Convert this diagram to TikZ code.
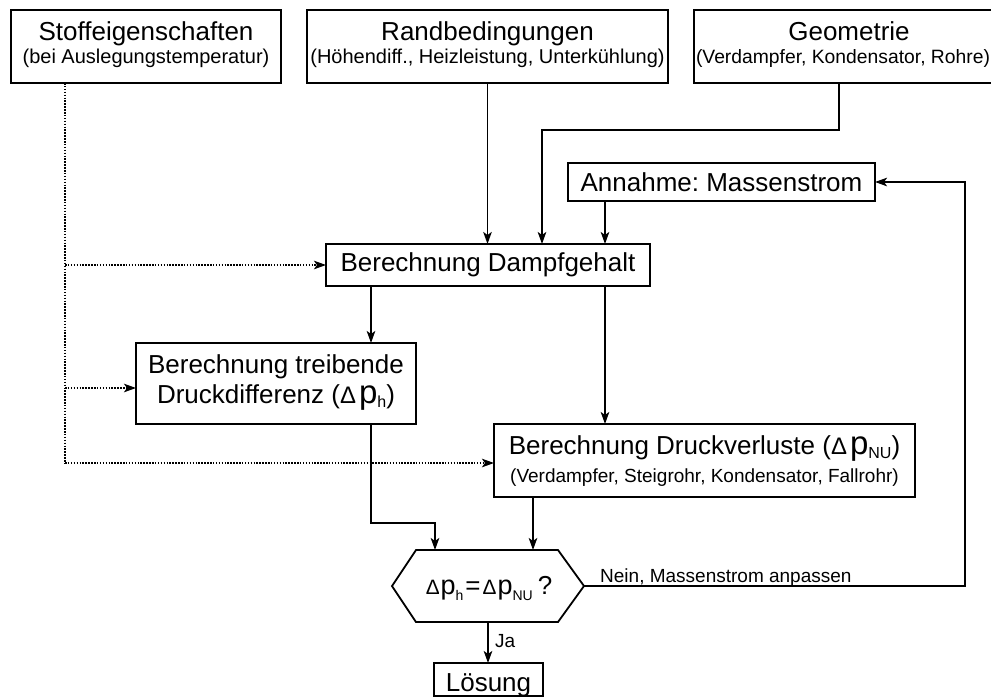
\documentclass[tikz,border=0pt]{standalone}
\usepackage{fontspec}
\setmainfont{Liberation Sans}
\usetikzlibrary{arrows.meta}
\frenchspacing
\newcommand{\fs}[1]{\fontsize{#1}{#1}\selectfont}
\newcommand{\Dlt}{\symbol{"0394}}
\newcommand{\Dp}[6]{\scalebox{#1}{\fs{26}\Dlt}\hspace{#6pt}{\fs{#2}p}\raisebox{-#4pt}{\fs{#3}#5}}
\begin{document}
\begin{tikzpicture}[x=1pt,y=-1pt,
  box/.style={draw, line width=1.8pt, inner sep=0pt, outer sep=0pt},
  ghost/.style={inner sep=0pt, outer sep=0pt},
  lbl/.style={inner sep=0pt, anchor=base},
  arr/.style={line width=1.9pt, -{Stealth[length=12pt,width=8.5pt,inset=3pt]}},
  dots/.style={line width=1.8pt, dash pattern=on 1.5pt off 1.4pt}]
\useasboundingbox (0,0) rectangle (991,697);
\clip (0,0) rectangle (991,697);

% top boxes
\node[box, minimum width=270pt, minimum height=73pt] (stoff) at (146,46.5) {};
\node[lbl] (stoffT) at (146,40) {\fs{26}Stoffeigenschaften};
\node[lbl] (stoffS) at (146,63.5) {\fs{20}(bei Auslegungstemperatur)};

\node[box, minimum width=361pt, minimum height=73pt] (rand) at (487.5,46.5) {};
\node[lbl] (randT) at (487.5,40) {\fs{26}Randbedingungen};
\node[lbl] (randS) at (487.5,63.5) {\fs{20}(Höhendiff., Heizleistung, Unterkühlung)};

\node[box, minimum width=310pt, minimum height=73pt] (geo) at (849,46.5) {};
\node[lbl] (geoT) at (849,40) {\fs{26}Geometrie};
\node[lbl] (geoS) at (843,63.5) {\fs{19.3}(Verdampfer, Kondensator, Rohre)};

% Annahme
\node[box, minimum width=307pt, minimum height=38pt] (ann) at (721.5,182) {};
\node[lbl] (annT) at (721.5,191) {\fs{26}Annahme: Massenstrom};

% Dampfgehalt
\node[box, minimum width=324pt, minimum height=42pt] (damp) at (488,265) {};
\node[lbl] (dampT) at (488,271.5) {\fs{26}Berechnung Dampfgehalt};

% treibende
\node[box, minimum width=280pt, minimum height=81pt] (treib) at (276,383.5) {};
\node[lbl] (treibA) at (276,373) {\fs{26}Berechnung treibende};
\node[lbl] (treibB) at (276,403) {\fs{26}Druckdifferenz (\Dp{0.92}{33}{16}{4}{h}{3})};

% Druckverluste
\node[box, minimum width=421pt, minimum height=73pt] (druck) at (704.5,460.5) {};
\node[lbl] (druckT) at (704.5,454) {\fs{26}Berechnung Druckverluste (\Dp{0.92}{33}{16}{4}{NU}{3})};
\node[lbl] (druckS) at (704.5,482) {\fs{19}(Verdampfer, Steigrohr, Kondensator, Fallrohr)};

% hexagon
\node[ghost, minimum width=192pt, minimum height=72pt] (hex) at (488,586) {};
\draw[line width=1.8pt] (hex.west) -- ([xshift=24pt]hex.north west) -- ([xshift=-26pt]hex.north east)
  -- (hex.east) -- ([xshift=-26pt]hex.south east) -- ([xshift=24pt]hex.south west) -- cycle;
\node[lbl] (hexT) at (489,594.5) {\fs{26}\Dp{0.8}{27}{14}{6}{h}{1}\hspace{2pt}=\hspace{2pt}\Dp{0.8}{27}{14}{6}{NU}{1}\hspace{5pt}?};

% Loesung
\node[box, minimum width=109pt, minimum height=33pt] (loes) at (488.5,679.5) {};
\node[lbl] (loesT) at (488.5,691) {\fs{26}Lösung};

% connectors
\draw[arr] (rand.south) -- (rand.south |- damp.north);
\draw[arr] ([xshift=-10pt]geo.south) -- ++(0,47) -| ([xshift=54pt]damp.north);
\draw[arr] ([xshift=-116.5pt]ann.south) -- ([xshift=117pt]damp.north);
\draw[arr] ([xshift=-117pt]damp.south) -- ([xshift=95pt]treib.north);
\draw[arr] ([xshift=117pt]damp.south) -- ([xshift=117pt]damp.south |- druck.north);
\draw[arr] ([xshift=95pt]treib.south) -- ++(0,99) -| ([xshift=-53pt]hex.north);
\draw[arr] ([xshift=-171.5pt]druck.south) -- ([xshift=45pt]hex.north);
\draw[arr] (hex.south) -- (hex.south |- loes.north);
\node[inner sep=0pt, anchor=base west] (ja) at (495,647) {\fs{19}Ja};
\coordinate (loopc) at (965,586);
\draw[arr] (hex.east) -- (loopc) |- (ann.east);
\node[inner sep=0pt, anchor=base west] (nein) at (600,582) {\fs{19}Nein, Massenstrom anpassen};

% dotted
\coordinate (dl) at (65,463);
\draw[dots] ([xshift=-81pt]stoff.south) -- (dl);
\draw[dots, arr] (dl) -- ([yshift=-2.5pt]druck.west);
\draw[dots, arr] (damp.west -| dl) -- (damp.west);
\draw[dots, arr] ([yshift=-4.5pt]treib.west -| dl) -- ([yshift=-4.5pt]treib.west);
\end{tikzpicture}
\end{document}
